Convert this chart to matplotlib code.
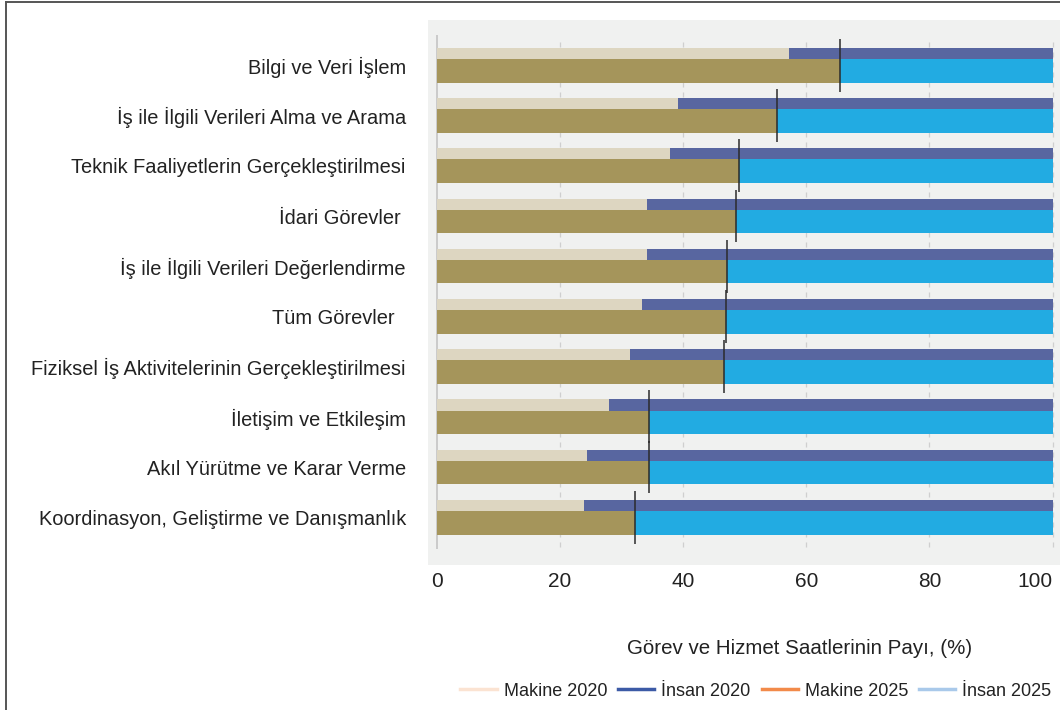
import numpy as np
import matplotlib
matplotlib.use("Agg")
import matplotlib.pyplot as plt
from matplotlib.lines import Line2D

plt.rcParams['font.family'] = ['Liberation Sans', 'DejaVu Sans']

# categories, top to bottom
categories = [
    "Bilgi ve Veri İşlem",
    "İş ile İlgili Verileri Alma ve Arama",
    "Teknik Faaliyetlerin Gerçekleştirilmesi",
    "İdari Görevler ",
    "İş ile İlgili Verileri Değerlendirme",
    "Tüm Görevler  ",
    "Fiziksel İş Aktivitelerinin Gerçekleştirilmesi",
    "İletişim ve Etkileşim",
    "Akıl Yürütme ve Karar Verme",
    "Koordinasyon, Geliştirme ve Danışmanlık",
]
makine_2020 = [57.1, 39.1, 37.9, 34.1, 34.1, 33.3, 31.4, 27.9, 24.4, 23.8]
makine_2025 = [65.4, 55.3, 49.1, 48.6, 47.1, 47.0, 46.6, 34.4, 34.4, 32.1]
insan_2020 = [100 - v for v in makine_2020]
insan_2025 = [100 - v for v in makine_2025]

xticks = [0, 20, 40, 60, 80, 100]

fig = plt.figure(figsize=(10.6, 7.1), dpi=100)
ax = fig.add_axes([428 / 1060, 145 / 710, 632 / 1060, 545 / 710])
ax.set_facecolor('#f0f1f0')

y = np.arange(len(categories))

# grid
ax.vlines(xticks[1:], -0.47, 9.61, colors='#cfcfcf', linestyles=(0, (4, 4)), linewidth=0.9, zorder=0)
ax.vlines(0, -0.61, 9.63, colors='#c4c4c4', linewidth=1.2, zorder=0)

# 2020 bars (thin, top)
ax.barh(y - 0.24, makine_2020, height=0.22, color='#ddd6c1', zorder=2)
ax.barh(y - 0.24, insan_2020, left=makine_2020, height=0.22, color='#5866a0', zorder=2)
# 2025 bars (thick, below)
ax.barh(y + 0.105, makine_2025, height=0.47, color='#a5955b', zorder=2)
ax.barh(y + 0.105, insan_2025, left=makine_2025, height=0.47, color='#22abe2', zorder=2)

# markers at 2025 split
ax.vlines(makine_2025, y - 0.53, y + 0.52, colors='#2b2b2b', linewidth=1.1, zorder=3)

ax.set_xlim(-1.46, 101.2)
ax.set_ylim(9.946, -0.906)
ax.set_xticks(xticks)
ax.set_xticklabels([str(t) for t in xticks], fontsize=15, color='#222222')
ax.get_xticklabels()[-1].set_horizontalalignment('right')
ax.set_yticks(y)
ax.set_yticklabels(categories, fontsize=14.4, color='#222222')
ax.tick_params(axis='x', length=0, pad=5)
ax.tick_params(axis='y', length=0, pad=16)
for s in ax.spines.values():
    s.set_visible(False)

fig.text(800 / 1060, 1 - 648 / 710, "Görev ve Hizmet Saatlerinin Payı, (%)",
         ha='center', va='center', fontsize=14.8, color='#222222')

handles = [
    Line2D([], [], color='#fbe3d2', linewidth=2.5),
    Line2D([], [], color='#3c5aa6', linewidth=2.5),
    Line2D([], [], color='#f28a4a', linewidth=2.5),
    Line2D([], [], color='#a9c9ea', linewidth=2.5),
]
labels = ["Makine 2020", "İnsan 2020", "Makine 2025", "İnsan 2025"]
fig.legend(handles, labels, loc='center', bbox_to_anchor=(756 / 1060, 1 - 691 / 710),
           ncol=4, frameon=False, fontsize=13, handlelength=2.0, handletextpad=0.4,
           columnspacing=0.6, labelcolor='#222222', borderpad=0)

# outer frame (top and left)
fig.add_artist(Line2D([5.5 / 1060, 5.5 / 1060], [0, 1 - 2 / 710], transform=fig.transFigure,
                      color='#555555', linewidth=1.4))
fig.add_artist(Line2D([5.5 / 1060, 1], [1 - 2 / 710, 1 - 2 / 710], transform=fig.transFigure,
                      color='#555555', linewidth=1.4))

fig.savefig("out.png", dpi=100)
